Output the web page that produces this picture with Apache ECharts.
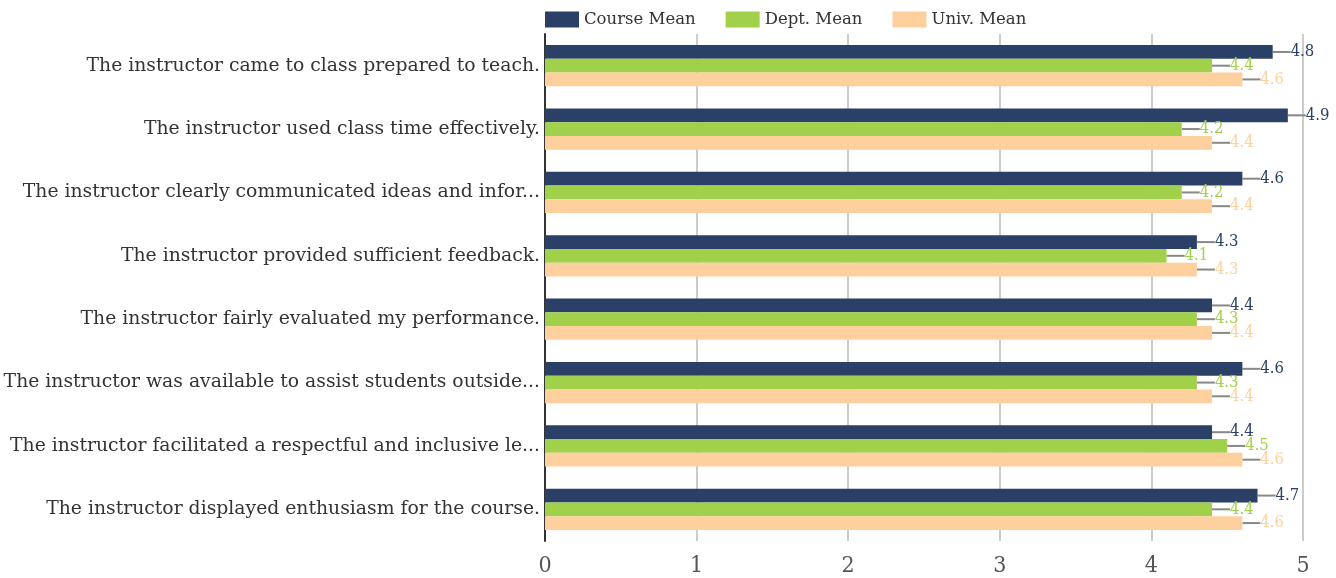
<!DOCTYPE html>
<html>
<head>
<meta charset="utf-8">
<script src="https://cdn.jsdelivr.net/npm/echarts@6/dist/echarts.min.js"></script>
<style>html,body{margin:0;padding:0;background:#fff}#c{width:1336px;height:578px}</style>
</head>
<body>
<div id="c"></div>
<script>
const categories = [
  "The instructor came to class prepared to teach.",
  "The instructor used class time effectively.",
  "The instructor clearly communicated ideas and infor...",
  "The instructor provided sufficient feedback.",
  "The instructor fairly evaluated my performance.",
  "The instructor was available to assist students outside...",
  "The instructor facilitated a respectful and inclusive le...",
  "The instructor displayed enthusiasm for the course."
];
const seriesNames = ["Course Mean", "Dept. Mean", "Univ. Mean"];
const courseMean = [4.8, 4.9, 4.6, 4.3, 4.4, 4.6, 4.4, 4.7];
const deptMean = [4.4, 4.2, 4.2, 4.1, 4.3, 4.3, 4.5, 4.4];
const univMean = [4.6, 4.4, 4.4, 4.3, 4.4, 4.4, 4.6, 4.6];
const xTicks = [0, 1, 2, 3, 4, 5];
const colors = ["#2B4066", "#A1D14B", "#FED09E"];

const chart = echarts.init(document.getElementById('c'));
const values = [courseMean, deptMean, univMean];
const serif = "'DejaVu Serif', serif";
const cond = "'DejaVu Serif Condensed', 'DejaVu Serif', serif";
chart.setOption({
  animation: false,
  color: colors,
  legend: {
    top: 6, left: 540,
    itemWidth: 34, itemHeight: 16, itemGap: 30,
    icon: 'rect',
    textStyle: { fontFamily: serif, fontSize: 16.5, color: '#333' },
    data: seriesNames
  },
  grid: { left: 545, right: 33, top: 34, bottom: 37, containLabel: false },
  xAxis: {
    type: 'value', min: xTicks[0], max: xTicks[xTicks.length - 1], interval: 1,
    axisLine: { show: false }, axisTick: { show: false },
    splitLine: { lineStyle: { color: '#cccccc', width: 2 } },
    axisLabel: { fontFamily: cond, fontSize: 23, color: '#555', margin: 14 }
  },
  yAxis: {
    type: 'category', data: categories, inverse: true,
    axisLine: { lineStyle: { color: '#333', width: 2 } },
    axisTick: { show: false },
    axisLabel: { fontFamily: serif, fontSize: 18.8, color: '#333', margin: 5 }
  },
  series: seriesNames.map((n, i) => ({
    name: n, type: 'bar', data: values[i],
    barGap: '0%', barCategoryGap: '35%',
    label: {
      show: true, position: 'right', distance: 2,
      color: colors[i], fontFamily: cond, fontSize: 16.5,
      formatter: p => p.value.toFixed(1)
    },
    labelLayout: { dx: 16 },
    labelLine: { show: true, lineStyle: { color: '#888', width: 2 } }
  }))
});
</script>
</body>
</html>
